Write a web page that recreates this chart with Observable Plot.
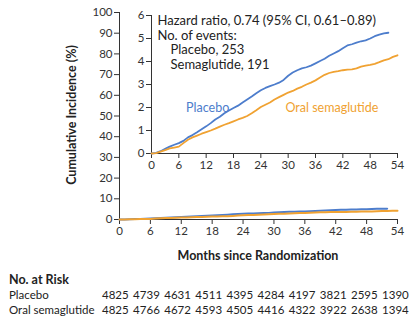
<!DOCTYPE html>
<html><head><meta charset="utf-8">
<script src="https://cdn.jsdelivr.net/npm/d3@7"></script>
<script src="https://cdn.jsdelivr.net/npm/@observablehq/plot@0.6"></script>
<style>
body{margin:0;background:#fff;font-family:Lato,"Open Sans",sans-serif;color:#222}
#wrap{position:relative;width:417px;height:321px;overflow:hidden;background:#fff}
#wrap svg{position:absolute;left:0;top:0}
.abs{position:absolute;white-space:nowrap;line-height:1}
.b{font-weight:bold}
</style></head><body><div id="wrap"></div>
<script>
// ---- data ----
const groups = ["Placebo", "Oral semaglutide"];
const groupColors = ["#4d7dcc", "#f0a232"];
const placeboMonths = [0,1,2,3,4,5,6,7,8,9,10,11,12,13,14,15,16,17,18,19,20,21,22,23,24,25,26,27,28,29,30,31,32,33,34,35,36,37,38,39,40,41,42,43,44,45,46,47,48,49,50,51,52];
const placeboValues = [0,0.03,0.1,0.2,0.3,0.38,0.45,0.55,0.7,0.8,0.92,1.05,1.18,1.32,1.48,1.6,1.75,1.87,1.98,2.08,2.22,2.35,2.48,2.62,2.75,2.85,2.93,3.0,3.08,3.2,3.38,3.52,3.62,3.7,3.75,3.82,3.92,4.02,4.12,4.25,4.35,4.45,4.58,4.7,4.75,4.82,4.88,4.92,5.0,5.1,5.17,5.22,5.25];
const semaMonths = [0,1,2,3,4,5,6,7,8,9,10,11,12,13,14,15,16,17,18,19,20,21,22,23,24,25,26,27,28,29,30,31,32,33,34,35,36,37,38,39,40,41,42,43,44,45,46,47,48,49,50,51,52,53,54];
const semaValues = [0,0.02,0.08,0.15,0.22,0.26,0.3,0.45,0.6,0.7,0.78,0.86,0.93,1.0,1.08,1.17,1.25,1.32,1.4,1.48,1.55,1.63,1.75,1.88,2.02,2.12,2.22,2.35,2.45,2.55,2.65,2.72,2.82,2.9,3.0,3.08,3.18,3.3,3.42,3.5,3.55,3.58,3.62,3.65,3.66,3.7,3.78,3.82,3.85,3.9,3.97,4.05,4.1,4.2,4.27];
const xTicks = [0,6,12,18,24,30,36,42,48,54];
const yTicksMain = [0,10,20,30,40,50,60,70,80,90,100];
const yTicksInset = [0,1,2,3,4,5,6];
const annotHead = "Hazard ratio, 0.74 (95% CI, 0.61–0.89)\nNo. of events:";
const annotEvents = "Placebo, 253\nSemaglutide, 191";
const seriesLabels = [
  {group: "Placebo", text: "Placebo", month: 7.6, value: 2.0},
  {group: "Oral semaglutide", text: "Oral semaglutide", month: 29.4, value: 2.0}
];
const yTitle = "Cumulative Incidence (%)";
const xTitle = "Months since Randomization";
const riskTitle = "No. at Risk";
const riskPlacebo = [4825,4739,4631,4511,4395,4284,4197,3821,2595,1390];
const riskSema = [4825,4766,4672,4593,4505,4416,4322,3922,2638,1394];

// ---- build ----
const rows = [];
placeboMonths.forEach((m,i)=>rows.push({group:"Placebo", month:m, value:placeboValues[i]}));
semaMonths.forEach((m,i)=>rows.push({group:"Oral semaglutide", month:m, value:semaValues[i]}));

const font = 'Lato, "Open Sans", sans-serif';
const axisColor = "#333";
const wrap = document.getElementById("wrap");
const fmt = d3.format("d");

const main = Plot.plot({
  width: 417, height: 245,
  marginLeft: 119, marginRight: 20, marginTop: 12, marginBottom: 26,
  style: {fontFamily: font, fontSize: "11.5px", color: axisColor, background: "transparent", overflow: "visible"},
  x: {domain: [0, 54], ticks: xTicks, tickFormat: fmt, label: null, tickSize: 5, tickPadding: 2},
  y: {domain: [0, 100], ticks: yTicksMain, tickFormat: fmt, label: null, tickSize: 5, tickPadding: 2},
  color: {domain: groups, range: groupColors},
  marks: [
    Plot.ruleX([0], {stroke: axisColor}),
    Plot.ruleY([0], {stroke: axisColor}),
    Plot.line(rows, {x: "month", y: "value", z: "group", stroke: "group", strokeWidth: 2})
  ]
});
wrap.appendChild(main);

const inset = Plot.plot({
  width: 417, height: 245,
  marginLeft: 151, marginRight: 20, marginTop: 15, marginBottom: 92,
  style: {fontFamily: font, fontSize: "11.5px", color: axisColor, background: "transparent", overflow: "visible"},
  x: {domain: [0, 54], ticks: xTicks, tickFormat: fmt, label: null, tickSize: 5, tickPadding: 2},
  y: {domain: [0, 6], ticks: yTicksInset, tickFormat: fmt, label: null, tickSize: 5, tickPadding: 2},
  color: {domain: groups, range: groupColors},
  marks: [
    Plot.ruleX([0], {stroke: axisColor}),
    Plot.ruleY([0], {stroke: axisColor}),
    Plot.line(rows, {x: "month", y: "value", z: "group", stroke: "group", strokeWidth: 1.8}),
    Plot.text([annotHead], {text: d => d, frameAnchor: "top-left", textAnchor: "start", lineAnchor: "top", dx: 6, dy: -1, lineHeight: 1.13, fill: "#222", fontSize: 13}),
    Plot.text([annotEvents], {text: d => d, frameAnchor: "top-left", textAnchor: "start", lineAnchor: "top", dx: 19, dy: 28.5, lineHeight: 1.13, fill: "#222", fontSize: 13}),
    Plot.text(seriesLabels, {x: "month", y: "value", text: "text", fill: "group", textAnchor: "start", fontSize: 12.5})
  ]
});
wrap.appendChild(inset);

function addText(txt, left, top, cls, extra) {
  const d = document.createElement("div");
  d.className = "abs " + (cls || "");
  d.textContent = txt;
  d.style.left = left + "px";
  d.style.top = top + "px";
  Object.assign(d.style, extra || {});
  wrap.appendChild(d);
  return d;
}
addText(yTitle, 72, 115, "b", {fontSize: "12.5px", transform: "translate(-50%,-50%) rotate(-90deg)"});
addText(xTitle, 258, 256, "b", {fontSize: "12.5px", transform: "translate(-50%,-50%)"});
addText(riskTitle, 9, 280, "b", {fontSize: "12.5px", transform: "translateY(-50%)"});
addText("Placebo", 9, 295, "", {fontSize: "11.5px", transform: "translateY(-50%)"});
addText("Oral semaglutide", 9, 310, "", {fontSize: "11.5px", transform: "translateY(-50%)"});
addText(riskPlacebo.join(" "), 102, 295, "", {fontSize: "11.5px", transform: "translateY(-50%)", fontVariantNumeric: "tabular-nums", wordSpacing: "1.5px"});
addText(riskSema.join(" "), 102, 310, "", {fontSize: "11.5px", transform: "translateY(-50%)", fontVariantNumeric: "tabular-nums", wordSpacing: "1.5px"});
</script></body></html>
